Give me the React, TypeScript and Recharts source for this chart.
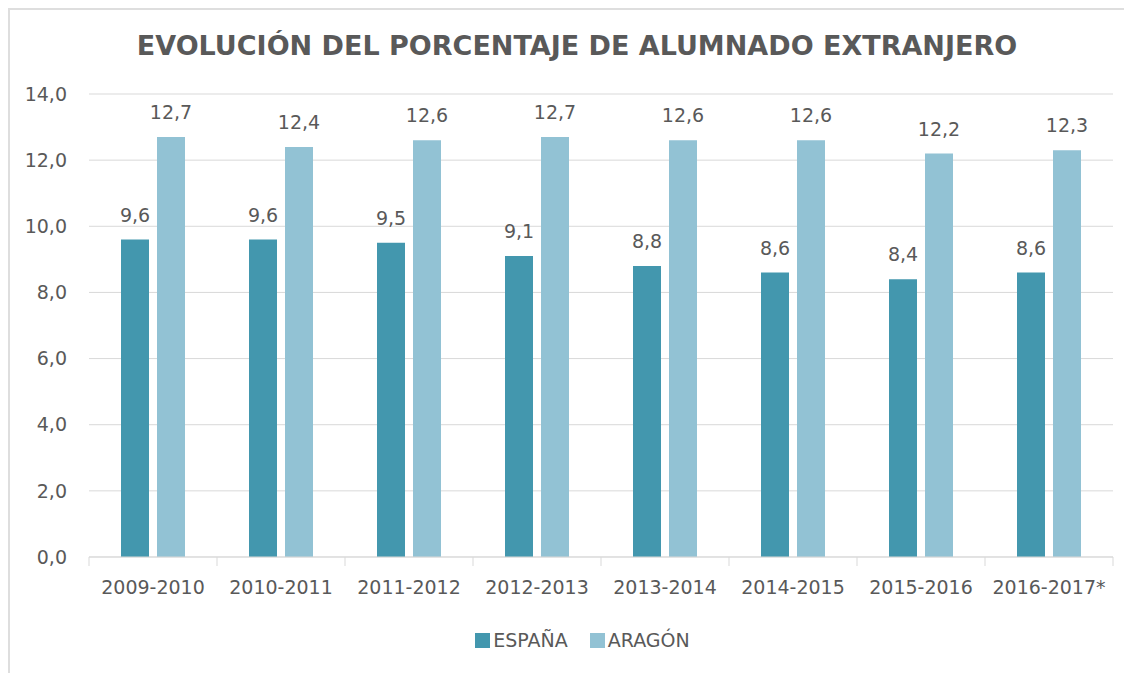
import React from 'react';
import { BarChart, Bar, XAxis, YAxis, CartesianGrid, LabelList, Legend } from 'recharts';

const categories = ['2009-2010', '2010-2011', '2011-2012', '2012-2013', '2013-2014', '2014-2015', '2015-2016', '2016-2017*'];
const espana = [9.6, 9.6, 9.5, 9.1, 8.8, 8.6, 8.4, 8.6];
const aragon = [12.7, 12.4, 12.6, 12.7, 12.6, 12.6, 12.2, 12.3];
const yTicks = [0, 2, 4, 6, 8, 10, 12, 14];
const seriesEspana = 'ESPAÑA';
const seriesAragon = 'ARAGÓN';
const seriesOrder = [seriesEspana, seriesAragon];
const chartTitle = 'EVOLUCIÓN DEL PORCENTAJE DE ALUMNADO EXTRANJERO';

const data = categories.map((c, i) => ({ cat: c, espana: espana[i], aragon: aragon[i] }));

const FONT = '"DejaVu Sans", Verdana, sans-serif';
const TEXT = '#595959';
const GRID = '#D9D9D9';
const C_ESP = '#4397AE';
const C_ARA = '#92C2D4';

const fmt = (v: any) => Number(v).toFixed(1).replace('.', ',');

const XTick = (props: any) => {
  const { x, y, payload, index } = props;
  const off = payload && typeof payload.offset === 'number' && payload.offset > 0 ? payload.offset : 64;
  return (
    <g>
      <line x1={x - off} x2={x - off} y1={y} y2={y + 9} stroke={GRID} strokeWidth={1} />
      {index === categories.length - 1 && (
        <line x1={x + off} x2={x + off} y1={y} y2={y + 9} stroke={GRID} strokeWidth={1} />
      )}
      <text x={x} y={y + 37} textAnchor="middle" fill={TEXT} fontSize={19} fontFamily={FONT}>
        {payload.value}
      </text>
    </g>
  );
};

const LegendContent = (props: any) => {
  const items = [...(props.payload || [])].sort(
    (a: any, b: any) => seriesOrder.indexOf(a.value) - seriesOrder.indexOf(b.value)
  );
  return (
    <div
      style={{
        display: 'flex',
        justifyContent: 'center',
        alignItems: 'center',
        height: 30,
        paddingLeft: 44,
        fontFamily: FONT,
        fontSize: 19,
        color: TEXT,
      }}
    >
      {items.map((p: any, i: number) => (
        <div key={i} style={{ display: 'flex', alignItems: 'center', marginRight: i < items.length - 1 ? 22 : 0 }}>
          <span style={{ display: 'inline-block', width: 15, height: 15, background: p.color, marginRight: 3 }} />
          <span>{p.value}</span>
        </div>
      ))}
    </div>
  );
};

export default function App() {
  return (
    <div style={{ position: 'relative', width: 1124, height: 665 }}>
      <div
        style={{
          position: 'absolute',
          left: 0,
          top: 0,
          width: 1124,
          height: 665,
          borderTop: '2px solid #DEDEDE',
          borderLeft: '2px solid #DEDEDE',
          boxSizing: 'border-box',
          pointerEvents: 'none',
        }}
      />
      <div
        style={{
          position: 'absolute',
          left: 0,
          top: 24,
          width: 1138,
          textAlign: 'center',
          fontFamily: FONT,
          fontWeight: 'bold',
          fontSize: 27,
          lineHeight: '27px',
          color: TEXT,
          whiteSpace: 'nowrap',
        }}
      >
        {chartTitle}
      </div>
      <BarChart
        width={1124}
        height={665}
        data={data}
        margin={{ top: 86, right: 19, bottom: 18, left: 0 }}
        barSize={28}
        barGap={8}
      >
        <CartesianGrid vertical={false} stroke={GRID} strokeWidth={1} />
        <XAxis
          dataKey="cat"
          height={68}
          axisLine={{ stroke: GRID, strokeWidth: 1 }}
          tickLine={false}
          tickSize={0}
          tickMargin={0}
          interval={0}
          tick={<XTick />}
        />
        <YAxis
          width={81}
          domain={[0, 14]}
          ticks={yTicks}
          axisLine={false}
          tickLine={false}
          tickSize={0}
          tickMargin={22}
          tickFormatter={fmt}
          tick={{ fill: TEXT, fontSize: 19, fontFamily: FONT }}
          interval={0}
        />
        <Legend verticalAlign="bottom" align="center" content={<LegendContent />} />
        <Bar dataKey="espana" name={seriesEspana} fill={C_ESP} isAnimationActive={false}>
          <LabelList dataKey="espana" position="top" offset={18} formatter={fmt} fill={TEXT} fontSize={19} fontFamily={FONT} />
        </Bar>
        <Bar dataKey="aragon" name={seriesAragon} fill={C_ARA} isAnimationActive={false}>
          <LabelList dataKey="aragon" position="top" offset={18} formatter={fmt} fill={TEXT} fontSize={19} fontFamily={FONT} />
        </Bar>
      </BarChart>
    </div>
  );
}
